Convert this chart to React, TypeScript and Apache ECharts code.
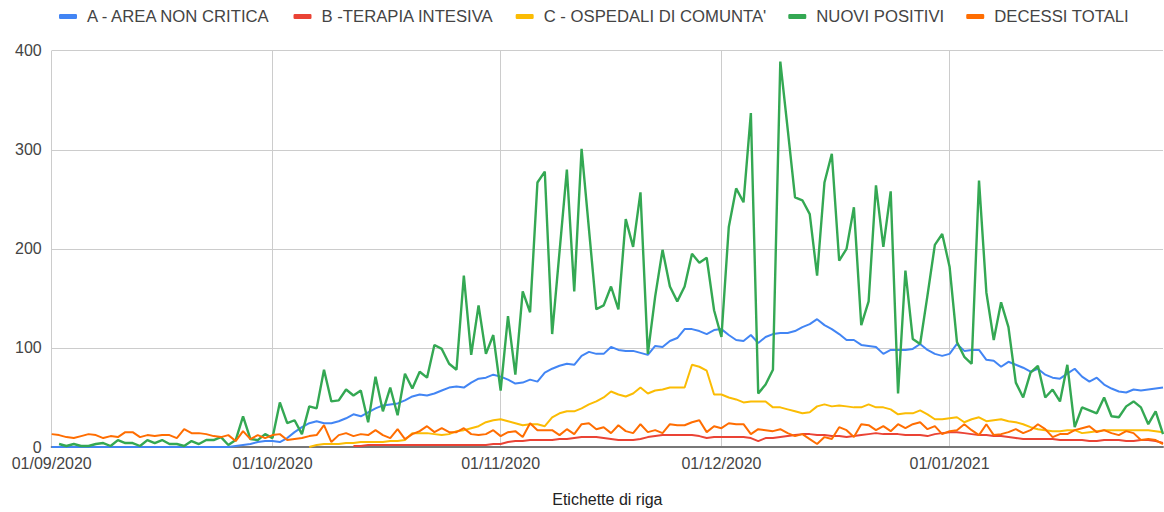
import { useEffect, useRef } from "react";
import * as echarts from "echarts";

// Months covered: [month, year, number of days shown]
const monthSpans: [number, number, number][] = [
  [9, 2020, 30],
  [10, 2020, 31],
  [11, 2020, 30],
  [12, 2020, 31],
  [1, 2021, 30],
];
const pad2 = (n: number) => (n < 10 ? "0" + n : String(n));
const categories: string[] = [];
monthSpans.forEach(([m, y, n]) => {
  for (let d = 1; d <= n; d++) categories.push(`${pad2(d)}/${pad2(m)}/${y}`);
});

const seriesNames = [
  "A - AREA NON CRITICA",
  "B -TERAPIA INTESIVA",
  "C - OSPEDALI DI COMUNTA'",
  "NUOVI POSITIVI",
  "DECESSI TOTALI",
];
const colors = ["#4285F4", "#EA4335", "#FBBC04", "#34A853", "#FF6D01"];

const areaNonCritica = [
  0, 0, 0, 0, 0, 0, 0, 0, 0, 0,
  0, 0, 0, 0, 0, 0, 0, 0, 0, 0,
  0, 0, 0, 0, 0, 1, 2, 3, 5, 6, 6,
  5, 9, 15, 20, 24, 26, 24, 24, 26, 29,
  33, 31, 35, 39, 42, 43, 44, 47, 51, 53,
  52, 54, 57, 60, 61, 60, 65, 69, 70, 73,
  71, 68, 64, 65, 68, 66, 75, 79, 82, 84,
  83, 92, 96, 94, 94, 101, 98, 97, 97, 95,
  93, 102, 101, 107, 110, 119, 119, 117, 114, 118,
  119, 113, 108, 107, 113, 105, 111, 114, 115, 115,
  117, 121, 124, 129, 123, 119, 114, 108, 108, 103,
  102, 101, 94, 98, 98, 98, 99, 104, 98, 94,
  92, 94, 104, 97, 98, 98, 88, 87, 81, 86,
  83, 80, 76, 79, 73, 70, 69, 74, 79, 71,
  66, 70, 63, 59, 56, 55, 58, 57, 58, 59, 60,
];

const terapiaIntensiva: (number | null)[] = [
  ...Array(41).fill(null),
  1, 1, 2, 2, 2, 2, 2, 2, 2, 2,
  2, 2, 2, 2, 2, 2, 2, 2, 2, 3,
  3, 5, 6, 6, 7, 7, 7, 7, 8, 8,
  9, 10, 10, 10, 9, 8, 7, 7, 7, 8,
  10, 11, 12, 12, 12, 12, 12, 11, 9, 10,
  10, 10, 10, 10, 9, 6, 9, 9, 10, 11,
  12, 13, 13, 12, 12, 11, 11, 10, 11, 12,
  13, 14, 13, 13, 13, 12, 12, 12, 11, 13,
  14, 15, 15, 14, 13, 12, 12, 11, 11, 10,
  9, 8, 8, 8, 8, 8, 7, 7, 7, 7,
  6, 6, 7, 7, 7, 6, 6, 7, 7, 6, 4,
];

const ospedaliComunita: (number | null)[] = [
  ...Array(35).fill(null),
  0, 2, 3, 3, 3, 4,
  4, 5, 5, 5, 5, 6, 6, 7, 14, 14,
  14, 13, 12, 13, 16, 17, 19, 21, 25, 27,
  28, 26, 24, 22, 23, 23, 21, 30, 34, 36,
  36, 39, 43, 46, 50, 56, 53, 51, 54, 60,
  54, 57, 58, 60, 60, 60, 83, 81, 77, 53,
  53, 50, 48, 45, 46, 46, 46, 40, 40, 38,
  36, 34, 35, 41, 43, 41, 42, 41, 40, 40,
  43, 40, 40, 38, 33, 34, 34, 37, 33, 28,
  28, 29, 30, 25, 28, 30, 26, 27, 28, 26,
  25, 23, 20, 18, 17, 16, 16, 17, 17, 14,
  15, 16, 17, 17, 17, 17, 17, 17, 17, 16, 15,
];

const nuoviPositivi: (number | null)[] = [
  null,
  3, 1, 3, 1, 1, 3, 4, 1, 7, 4,
  4, 1, 7, 4, 7, 3, 3, 1, 6, 3,
  7, 7, 10, 2, 7, 31, 8, 7, 13, 9,
  45, 24, 27, 13, 41, 39, 78, 46, 47, 58,
  52, 57, 25, 71, 36, 60, 32, 74, 59, 76,
  70, 103, 99, 84, 78, 173, 93, 143, 94, 113,
  57, 132, 73, 157, 136, 267, 278, 114, 197, 280,
  157, 301, 220, 139, 143, 162, 139, 230, 202, 257,
  94, 152, 199, 162, 147, 162, 195, 186, 191, 138,
  111, 222, 261, 247, 337, 54, 63, 78, 389, 321,
  252, 249, 235, 173, 267, 296, 188, 200, 242, 123,
  147, 264, 202, 258, 54, 178, 109, 104, 153, 204,
  215, 182, 106, 91, 84, 269, 156, 108, 146, 121,
  65, 50, 75, 82, 50, 58, 46, 83, 20, 40,
  37, 34, 50, 31, 30, 41, 46, 40, 23, 36, 13,
];

const decessiTotali = [
  13, 12, 10, 9, 11, 13, 12, 9, 11, 10, 15,
  15, 10, 12, 11, 12, 12, 9, 18, 14, 14,
  13, 11, 10, 12, 6, 16, 8, 12, 9, 12,
  13, 7, 8, 9, 11, 12, 22, 5, 12, 14,
  11, 13, 12, 17, 12, 9, 18, 8, 13, 16,
  21, 15, 19, 15, 15, 19, 13, 12, 13, 17,
  11, 15, 16, 10, 24, 17, 17, 17, 12, 18,
  13, 23, 24, 18, 20, 14, 22, 16, 14, 23,
  15, 17, 14, 23, 22, 22, 25, 27, 15, 21,
  19, 24, 23, 23, 13, 18, 17, 16, 18, 14,
  11, 13, 8, 3, 10, 8, 20, 17, 10, 23,
  22, 17, 21, 16, 23, 19, 23, 25, 18, 21,
  13, 16, 17, 23, 17, 12, 23, 12, 13, 15,
  18, 14, 17, 23, 18, 10, 13, 13, 17, 19,
  21, 15, 17, 14, 12, 16, 14, 7, 8, 7, 3,
];

const yTicks = { min: 0, max: 400, interval: 100 };
const xAxisName = "Etichette di riga";

const seriesData = [areaNonCritica, terapiaIntensiva, ospedaliComunita, nuoviPositivi, decessiTotali];

const isMonthStart = (_i: number, v: string) => v.startsWith("01/");

export default function App() {
  const ref = useRef<HTMLDivElement>(null);
  useEffect(() => {
    if (!ref.current) return;
    const chart = echarts.init(ref.current, undefined, { renderer: "svg" });
    const font = 'Arial, "Liberation Sans", sans-serif';
    chart.setOption({
      animation: false,
      backgroundColor: "#ffffff",
      textStyle: { fontFamily: font },
      color: colors,
      legend: {
        left: 54,
        top: 3,
        itemWidth: 18,
        itemHeight: 5,
        itemGap: 22,
        icon: "roundRect",
        data: seriesNames,
        textStyle: { fontSize: 16.7, color: "#444", fontFamily: font, padding: [0, 0, 0, 5] },
      },
      grid: { left: 51.7, right: 1, top: 50.7, bottom: 58.7, containLabel: false },
      xAxis: {
        type: "category",
        data: categories,
        boundaryGap: false,
        axisLine: { lineStyle: { color: "#777", width: 2 } },
        axisTick: { show: false },
        axisLabel: { interval: isMonthStart, fontSize: 16, color: "#444", margin: 8, fontFamily: font },
        splitLine: { show: true, interval: isMonthStart, lineStyle: { color: "#cccccc", width: 1 } },
        name: xAxisName,
        nameLocation: "middle",
        nameGap: 44,
        nameTextStyle: { fontSize: 16, color: "#222", fontFamily: font },
      },
      yAxis: {
        type: "value",
        min: yTicks.min,
        max: yTicks.max,
        interval: yTicks.interval,
        axisLine: { show: false },
        axisTick: { show: false },
        axisLabel: { fontSize: 16, color: "#444", margin: 10, fontFamily: font },
        splitLine: { lineStyle: { color: "#cccccc", width: 1 } },
      },
      series: seriesNames.map((name, k) => ({
        name,
        type: "line",
        data: seriesData[k],
        showSymbol: false,
        symbol: "none",
        connectNulls: false,
        lineStyle: { width: k === 3 ? 2.4 : 2, color: colors[k] },
        itemStyle: { color: colors[k] },
      })),
    });
    return () => chart.dispose();
  }, []);
  return (
    <div
      ref={ref}
      style={{ position: "fixed", left: 0, top: 0, width: 1164, height: 512, background: "#fff" }}
    />
  );
}
